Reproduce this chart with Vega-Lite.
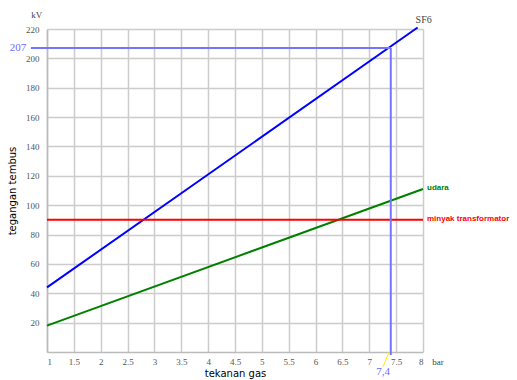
{
  "$schema": "https://vega.github.io/schema/vega-lite/v6.json",
  "width": 376,
  "height": 323,
  "autosize": {"type": "none"},
  "padding": {"left": 47, "top": 29, "right": 94, "bottom": 28},
  "background": "white",
  "config": {
    "view": {"stroke": null},
    "axis": {
      "gridColor": "#cccccc",
      "gridWidth": 1.5,
      "domainColor": "#bbbbbb",
      "domainWidth": 1.5,
      "ticks": false,
      "labelFont": "Liberation Serif",
      "labelFontSize": 9,
      "labelColor": "#555555",
      "titleFont": "DejaVu Sans",
      "titleFontSize": 10,
      "titleFontWeight": "normal",
      "titleColor": "#000000"
    }
  },
  "datasets": {
    "lines": [
      {"series": "SF6", "tekanan": 1, "tegangan": 44},
      {"series": "SF6", "tekanan": 7.9, "tegangan": 221},
      {"series": "udara", "tekanan": 1, "tegangan": 18},
      {"series": "udara", "tekanan": 8, "tegangan": 111},
      {"series": "minyak transformator", "tekanan": 1, "tegangan": 90},
      {"series": "minyak transformator", "tekanan": 8, "tegangan": 90}
    ],
    "guides": [
      {"tekanan": 0.7, "tekanan2": 7.4, "tegangan": 207, "tegangan2": 207},
      {"tekanan": 7.4, "tekanan2": 7.4, "tegangan": 207, "tegangan2": -2}
    ],
    "pointer": [
      {"tekanan": 7.37, "tekanan2": 7.25, "tegangan": 0, "tegangan2": -10.5}
    ],
    "notes": [
      {"text": "207", "tekanan": 0.46, "tegangan": 207, "kind": "blue"},
      {"text": "7,4", "tekanan": 7.257, "tegangan": -13.6, "kind": "blue"},
      {"text": "kV", "tekanan": 0.81, "tegangan": 229.6, "kind": "unit"},
      {"text": "bar", "tekanan": 8.28, "tegangan": -6.8, "kind": "unit"}
    ]
  },
  "encoding": {
    "x": {
      "field": "tekanan", "type": "quantitative",
      "scale": {"domain": [1, 8], "nice": false, "zero": false},
      "axis": {
        "title": "tekanan gas",
        "values": [1, 1.5, 2, 2.5, 3, 3.5, 4, 4.5, 5, 5.5, 6, 6.5, 7, 7.5, 8],
        "format": "~g",
        "labelPadding": 5,
        "titlePadding": 2
      }
    },
    "y": {
      "field": "tegangan", "type": "quantitative",
      "scale": {"domain": [0, 220], "nice": false},
      "axis": {
        "title": "tegangan tembus",
        "values": [20, 40, 60, 80, 100, 120, 140, 160, 180, 200, 220],
        "format": "d",
        "labelPadding": 8,
        "titlePadding": 8
      }
    }
  },
  "layer": [
    {
      "data": {"name": "lines"},
      "mark": {"type": "line", "strokeWidth": 2},
      "encoding": {
        "color": {
          "field": "series", "type": "nominal",
          "scale": {"domain": ["SF6", "udara", "minyak transformator"], "range": ["#0000ff", "#008000", "#ff0000"]},
          "legend": null
        },
        "detail": {"field": "series"}
      }
    },
    {
      "data": {"name": "guides"},
      "mark": {"type": "rule", "color": "#7474ff", "strokeWidth": 2},
      "encoding": {
        "x2": {"field": "tekanan2"},
        "y2": {"field": "tegangan2"}
      }
    },
    {
      "data": {"name": "pointer"},
      "mark": {"type": "rule", "color": "#ffee00", "strokeWidth": 1},
      "encoding": {
        "x2": {"field": "tekanan2"},
        "y2": {"field": "tegangan2"}
      }
    },
    {
      "data": {"name": "notes"},
      "transform": [{"filter": "datum.kind === 'blue'"}],
      "mark": {"type": "text", "font": "Liberation Serif", "fontSize": 11, "color": "#6a6aff", "align": "center", "baseline": "middle"},
      "encoding": {
        "text": {"field": "text"}
      }
    },
    {
      "data": {"name": "notes"},
      "transform": [{"filter": "datum.kind === 'unit'"}],
      "mark": {"type": "text", "font": "Liberation Serif", "fontSize": 9, "color": "#444444", "align": "center", "baseline": "middle"},
      "encoding": {
        "text": {"field": "text"}
      }
    },
    {
      "data": {"name": "lines"},
      "transform": [{"filter": "datum.series === 'SF6' && datum.tekanan > 7"}],
      "mark": {"type": "text", "font": "Liberation Serif", "fontSize": 10, "color": "#444444", "align": "center", "baseline": "bottom", "dx": 6, "dy": -3},
      "encoding": {
        "text": {"field": "series"}
      }
    },
    {
      "data": {"name": "lines"},
      "transform": [{"filter": "datum.series !== 'SF6' && datum.tekanan === 8"}],
      "mark": {"type": "text", "font": "Liberation Sans", "fontSize": 8, "fontWeight": "bold", "align": "left", "baseline": "middle", "dx": 4, "dy": -1},
      "encoding": {
        "text": {"field": "series"},
        "color": {"field": "series", "type": "nominal", "legend": null}
      }
    }
  ]
}
